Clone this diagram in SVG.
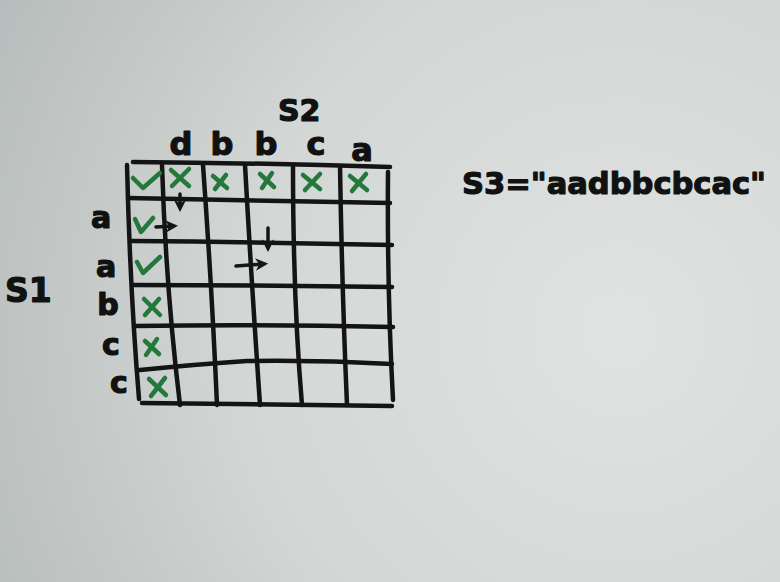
<svg xmlns="http://www.w3.org/2000/svg" width="780" height="582" viewBox="0 0 780 582">
<defs>
<radialGradient id="bg" cx="620" cy="330" r="700" gradientUnits="userSpaceOnUse">
<stop offset="0" stop-color="#e0e3e2"/>
<stop offset="0.55" stop-color="#d2d6d5"/>
<stop offset="1" stop-color="#b7bdbc"/>
</radialGradient>
<marker id="ah" viewBox="0 0 10 10" refX="6" refY="5" markerWidth="3.6" markerHeight="3.6" orient="auto" markerUnits="strokeWidth">
<path d="M0,0 L10,5 L0,10 L3,5 Z" fill="#151515"/>
</marker>
<style>
.g{fill:none;stroke:#141414;stroke-width:4.5;stroke-linecap:round;stroke-linejoin:round}
.m{fill:none;stroke:#23783a;stroke-width:4.5;stroke-linecap:round;stroke-linejoin:round}
.a{fill:none;stroke:#151515;stroke-width:3.5;stroke-linecap:round;marker-end:url(#ah)}
.t{font-family:"DejaVu Sans","Liberation Sans",sans-serif;font-weight:bold;fill:#111;stroke:#111;stroke-width:1.2;stroke-linejoin:round}
</style>
</defs>
<rect width="780" height="582" fill="url(#bg)"/>

<g id="grid">
<path class="g" d="M133,162 Q260,163 390,167"/>
<path class="g" d="M128,198 Q260,200 390,203"/>
<path class="g" d="M131,241 Q260,242 392,245"/>
<path class="g" d="M133,285 Q260,285 392,287"/>
<path class="g" d="M135,326 Q260,324 393,327"/>
<path class="g" d="M140,370 Q200,364 247,361 Q320,360 392,364"/>
<path class="g" d="M142,403 Q260,404 392,406"/>
<path class="g" d="M127,165 Q130,290 139,399"/>
<path class="g" d="M162,165 Q166,290 180,405"/>
<path class="g" d="M203,165 Q212,290 217,405"/>
<path class="g" d="M245,165 Q252,290 260,405"/>
<path class="g" d="M293,165 Q293,300 302,405"/>
<path class="g" d="M340,166 Q342,290 347,405"/>
<path class="g" d="M388,172 Q387,290 393,400"/>
</g>

<g id="marks">
<path class="m" d="M133,178 L143,188 L160,173"/>
<path class="m" d="M171,170 L189,186 M189,169 L172,186"/>
<path class="m" d="M213,176 L227,188 M226,175 L215,189"/>
<path class="m" d="M260,174 L274,187 M272,173 L262,188"/>
<path class="m" d="M303,175 L320,189 M320,174 L305,190"/>
<path class="m" d="M350,176 L367,190 M366,174 L352,191"/>
<path class="m" d="M135,219 L141,232 L153,218"/>
<path class="m" d="M137,262 L143,273 L160,257"/>
<path class="m" d="M144,299 L160,315 M159,299 L145,315"/>
<path class="m" d="M145,341 L159,354 M157,339 L146,355"/>
<path class="m" d="M149,379 L166,395 M165,378 L151,396"/>
</g>

<g id="arrows">
<path class="a" d="M180,194 L180,207"/>
<path class="a" d="M156,227 L173,226"/>
<path class="a" d="M268,228 L268,247"/>
<path class="a" d="M236,266 L263,264"/>
</g>

<g id="labels">
<text class="t" x="278" y="121" font-size="30">S2</text>
<text class="t" x="181" y="155" font-size="32" text-anchor="middle">d</text>
<text class="t" x="222" y="155" font-size="32" text-anchor="middle">b</text>
<text class="t" x="266" y="155" font-size="32" text-anchor="middle">b</text>
<text class="t" x="316" y="155" font-size="32" text-anchor="middle">c</text>
<text class="t" x="362" y="161" font-size="32" text-anchor="middle">a</text>
<text class="t" x="101" y="228" font-size="30" text-anchor="middle">a</text>
<text class="t" x="106" y="277" font-size="30" text-anchor="middle">a</text>
<text class="t" x="108" y="315" font-size="30" text-anchor="middle">b</text>
<text class="t" x="111" y="355" font-size="30" text-anchor="middle">c</text>
<text class="t" x="119" y="393" font-size="30" text-anchor="middle">c</text>
<text class="t" x="5" y="302" font-size="33">S1</text>
<text class="t" x="462" y="194" font-size="31" textLength="304" lengthAdjust="spacingAndGlyphs">S3="aadbbcbcac"</text>
</g>
</svg>
